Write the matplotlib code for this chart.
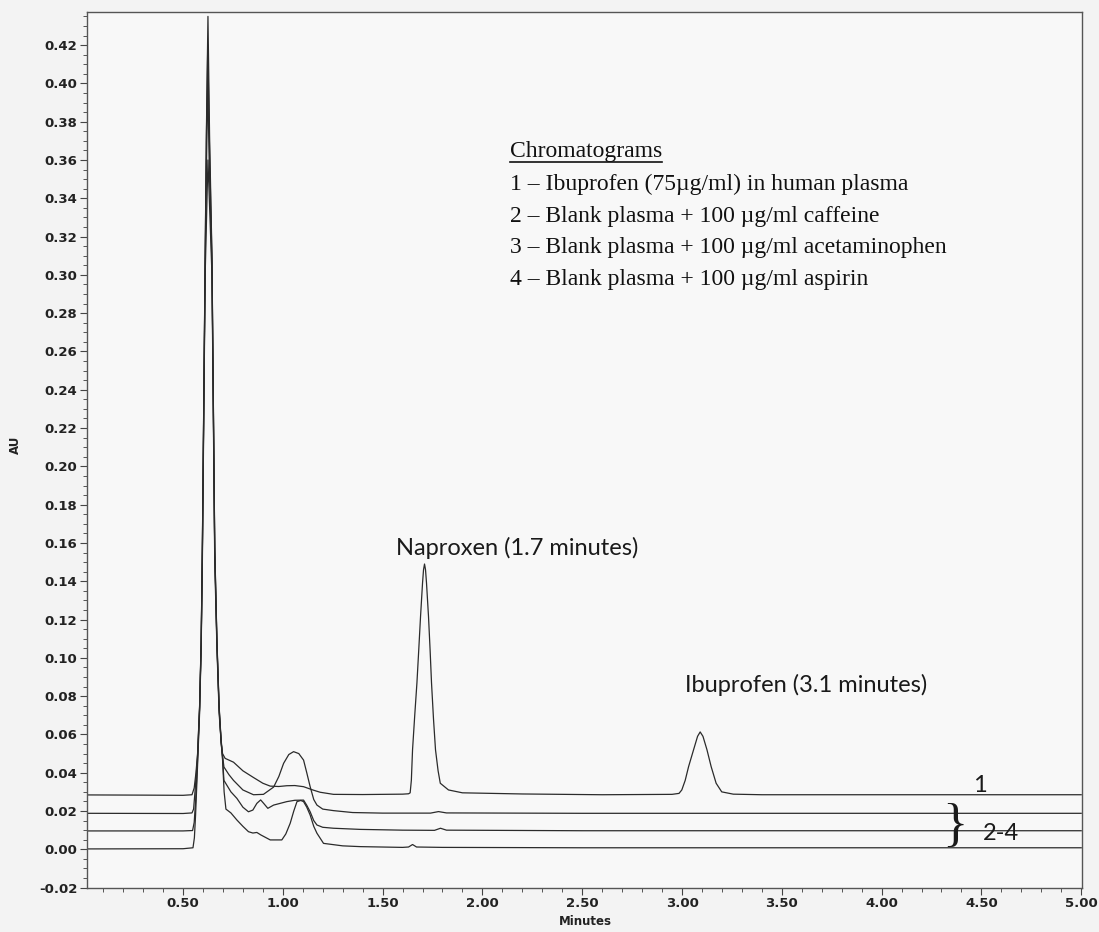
import matplotlib
matplotlib.use("Agg")
import matplotlib.pyplot as plt
import numpy as np
from matplotlib.lines import Line2D
from matplotlib.transforms import IdentityTransform

plt.rcParams['axes.unicode_minus'] = False

# ---- data (time [min], absorbance [AU]) ----
trace1 = [(0.02, 0.0284), (0.30, 0.0283), (0.50, 0.0282), (0.545, 0.0285), (0.556, 0.032),
          (0.565, 0.040), (0.573, 0.050), (0.583, 0.0745), (0.591, 0.109), (0.597, 0.158),
          (0.611, 0.310), (0.617, 0.373), (0.625, 0.435), (0.633, 0.373), (0.645, 0.310),
          (0.659, 0.158), (0.670, 0.109), (0.681, 0.0745), (0.691, 0.057), (0.698, 0.050),
          (0.711, 0.0475), (0.753, 0.0455), (0.800, 0.041), (0.853, 0.0375), (0.900, 0.0345),
          (0.937, 0.033), (0.980, 0.0328), (1.020, 0.0332), (1.060, 0.0333), (1.104, 0.0327),
          (1.150, 0.031), (1.187, 0.0298), (1.254, 0.0287), (1.400, 0.0286), (1.600, 0.0288),
          (1.630, 0.0290), (1.638, 0.0295), (1.644, 0.036), (1.650, 0.052), (1.661, 0.070),
          (1.672, 0.087), (1.681, 0.104), (1.690, 0.1215), (1.700, 0.139), (1.705, 0.146),
          (1.710, 0.149), (1.715, 0.146), (1.720, 0.139), (1.730, 0.1215), (1.738, 0.104),
          (1.745, 0.087), (1.755, 0.068), (1.765, 0.052), (1.778, 0.041), (1.789, 0.0345),
          (1.830, 0.031), (1.900, 0.0295), (2.200, 0.0289), (2.600, 0.0285), (2.950, 0.0287),
          (2.985, 0.0292), (2.999, 0.031), (3.016, 0.036), (3.033, 0.0432), (3.058, 0.052),
          (3.078, 0.059), (3.091, 0.0613), (3.105, 0.059), (3.125, 0.052), (3.146, 0.0432),
          (3.171, 0.0345), (3.199, 0.030), (3.257, 0.0288), (3.400, 0.0285), (4.000, 0.0285),
          (5.000, 0.0285)]

trace2 = [(0.02, 0.0188), (0.50, 0.0187), (0.545, 0.019), (0.553, 0.021), (0.560, 0.030),
          (0.565, 0.037), (0.573, 0.049), (0.583, 0.074), (0.591, 0.108), (0.597, 0.157),
          (0.611, 0.308), (0.617, 0.370), (0.624, 0.420), (0.632, 0.370), (0.645, 0.308),
          (0.659, 0.157), (0.670, 0.108), (0.681, 0.074), (0.691, 0.056), (0.698, 0.049),
          (0.705, 0.043), (0.730, 0.039), (0.753, 0.036), (0.800, 0.031), (0.853, 0.0285),
          (0.903, 0.0287), (0.954, 0.0325), (0.980, 0.038), (1.004, 0.0449), (1.030, 0.0495),
          (1.054, 0.051), (1.080, 0.050), (1.104, 0.0466), (1.120, 0.040), (1.137, 0.0327),
          (1.155, 0.026), (1.171, 0.0231), (1.200, 0.021), (1.254, 0.0202), (1.350, 0.0192),
          (1.500, 0.0189), (1.740, 0.0189), (1.780, 0.0197), (1.820, 0.0190), (2.500, 0.0188),
          (3.500, 0.0188), (5.000, 0.0188)]

trace3 = [(0.02, 0.0096), (0.50, 0.0096), (0.548, 0.0098), (0.556, 0.014), (0.563, 0.025),
          (0.573, 0.047), (0.583, 0.073), (0.591, 0.107), (0.597, 0.155), (0.611, 0.305),
          (0.618, 0.360), (0.624, 0.400), (0.631, 0.360), (0.645, 0.305), (0.659, 0.155),
          (0.670, 0.107), (0.681, 0.073), (0.691, 0.056), (0.698, 0.048), (0.705, 0.036),
          (0.740, 0.030), (0.770, 0.0266), (0.800, 0.022), (0.828, 0.0196), (0.850, 0.0205),
          (0.870, 0.024), (0.889, 0.0258), (0.904, 0.024), (0.925, 0.0214), (0.954, 0.0231),
          (1.020, 0.0249), (1.060, 0.0256), (1.104, 0.0257), (1.120, 0.023), (1.137, 0.0196),
          (1.155, 0.015), (1.171, 0.0127), (1.200, 0.0115), (1.254, 0.011), (1.388, 0.0104),
          (1.600, 0.0100), (1.760, 0.0099), (1.790, 0.0110), (1.820, 0.0100), (2.500, 0.0097),
          (3.500, 0.0097), (5.000, 0.0097)]

trace4 = [(0.02, 0.0002), (0.50, 0.0003), (0.550, 0.0008), (0.557, 0.006), (0.563, 0.018),
          (0.573, 0.044), (0.583, 0.071), (0.591, 0.105), (0.597, 0.150), (0.611, 0.300),
          (0.625, 0.360), (0.645, 0.300), (0.659, 0.150), (0.670, 0.105), (0.681, 0.071),
          (0.691, 0.056), (0.698, 0.047), (0.706, 0.030), (0.715, 0.021), (0.740, 0.019),
          (0.770, 0.0153), (0.800, 0.012), (0.828, 0.0092), (0.850, 0.0085), (0.870, 0.0088),
          (0.890, 0.0075), (0.937, 0.0049), (0.995, 0.0049), (1.015, 0.008), (1.037, 0.0136),
          (1.055, 0.020), (1.071, 0.0249), (1.090, 0.0255), (1.104, 0.0249), (1.120, 0.022),
          (1.137, 0.0179), (1.155, 0.012), (1.171, 0.0084), (1.204, 0.0031), (1.300, 0.0018),
          (1.388, 0.0014), (1.600, 0.0010), (1.630, 0.0012), (1.650, 0.0025), (1.670, 0.0012),
          (1.800, 0.0010), (2.500, 0.0008), (3.500, 0.0008), (5.000, 0.0008)]

traces = [trace1, trace2, trace3, trace4]

xtick_vals = [0.50, 1.00, 1.50, 2.00, 2.50, 3.00, 3.50, 4.00, 4.50, 5.00]
xtick_labels = ["0.50", "1.00", "1.50", "2.00", "2.50", "3.00", "3.50", "4.00", "4.50", "5.00"]
ytick_vals = [round(-0.02 + 0.02 * i, 2) for i in range(23)]
ytick_labels = ["%.2f" % v for v in ytick_vals]

legend_title = "Chromatograms"
legend_lines = ["1 \u2013 Ibuprofen (75\u00b5g/ml) in human plasma",
                "2 \u2013 Blank plasma + 100 \u00b5g/ml caffeine",
                "3 \u2013 Blank plasma + 100 \u00b5g/ml acetaminophen",
                "4 \u2013 Blank plasma + 100 \u00b5g/ml aspirin"]

# ---- figure ----
W, H = 1099, 932
fig = plt.figure(figsize=(W / 100, H / 100), dpi=100, facecolor='#f3f3f3')
ax = fig.add_axes([87 / W, 1 - 887.6 / H, (1082 - 87) / W, (887.6 - 12) / H])
ax.set_facecolor('#f8f8f8')

for tr in traces:
    t, a = zip(*tr)
    ax.plot(t, a, color='#2b2b2b', lw=0.9, solid_joinstyle='round')

ax.set_xlim(0.019, 5.004)
ax.set_ylim(-0.02, 0.4373)

ax.set_xticks(xtick_vals)
ax.set_xticklabels(xtick_labels)
ax.set_xticks(np.arange(0.1, 5.0, 0.1), minor=True)
ax.set_yticks(ytick_vals)
ax.set_yticklabels(ytick_labels)
ax.set_yticks(np.arange(-0.02, 0.436, 0.005), minor=True)

ax.tick_params(which='major', length=5, width=0.8, color='#444444', labelsize=9.5,
               labelcolor='#222222', pad=2)
ax.tick_params(which='minor', length=3, width=0.7, color='#555555')
for lbl in ax.get_xticklabels() + ax.get_yticklabels():
    lbl.set_fontweight('bold')
    lbl.set_family('DejaVu Sans')

for sp in ax.spines.values():
    sp.set_color('#555555')
    sp.set_linewidth(1.0)

ax.set_ylabel('AU', fontsize=8.5, fontweight='bold', color='#222222')
ax.yaxis.set_label_coords((15 - 87) / 995, (887.6 - 445) / 875.6)
ax.yaxis.label.set_va('center')
ax.set_xlabel('Minutes', fontsize=8.5, fontweight='bold', color='#222222')
ax.xaxis.set_label_coords((585 - 87) / 995, (887.6 - 921.7) / 875.6)
ax.xaxis.label.set_va('center')

# ---- legend block (serif) ----
serif = 'Liberation Serif'
lx = 2.139
ttl = ax.text(lx, 0.3616, legend_title, family=serif, fontsize=17, color='#111111',
              ha='left', va='baseline')
ys = [0.3442, 0.3277, 0.3112, 0.2946]
for y, s in zip(ys, legend_lines):
    ax.text(lx, y, s, family=serif, fontsize=17, color='#111111', ha='left', va='baseline')

# ---- annotations ----
ann = dict(family='Lato', fontsize=17, color='#1a1a1a')
ax.text(2.174, 0.1536, 'Naproxen (1.7 minutes)', ha='center', va='baseline', **ann)
ax.text(3.016, 0.0821, 'Ibuprofen (3.1 minutes)', ha='left', va='baseline', **ann)
ax.text(4.494, 0.0299, '1', ha='center', va='baseline', **ann)
ax.text(4.509, 0.0049, '2-4', ha='left', va='baseline', **ann)
ax.text(4.369, 0.0049, '}', ha='center', va='baseline', family=serif, fontsize=38,
        color='#1a1a1a')

# underline for the legend title
fig.canvas.draw()
bb = ttl.get_window_extent()
x0, ybase = ax.transData.transform((lx, 0.3616))
fig.add_artist(Line2D([bb.x0, bb.x1], [ybase - 5, ybase - 5], transform=IdentityTransform(),
                      color='#111111', lw=1.2))

fig.savefig('out.png', dpi=100, facecolor=fig.get_facecolor())
